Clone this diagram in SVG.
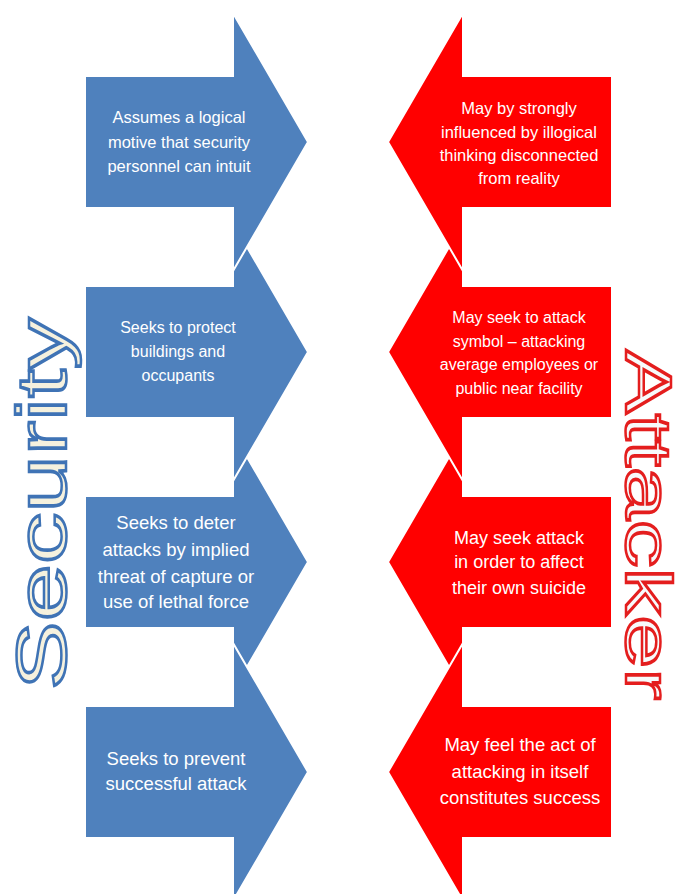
<svg xmlns="http://www.w3.org/2000/svg" width="686" height="894" viewBox="0 0 686 894">
<style>
.blue{fill:#4F81BD;stroke:#FFFFFF;stroke-width:2;stroke-linejoin:miter}
.red{fill:#FF0000;stroke:#FFFFFF;stroke-width:2;stroke-linejoin:miter}
.lbl{font-family:"Liberation Sans",Arial,sans-serif;fill:#FFFFFF;text-anchor:middle}
.big{font-family:"Liberation Sans",Arial,sans-serif;stroke-width:2.5}
</style>
<rect width="686" height="894" fill="#FFFFFF"/>
<g id="security-arrows">
<g id="sec3"><path class="blue" d="M85,496 H233 V433 L308,562 L233,691 V628 H85 Z"/>
<text class="lbl" font-size="18.5"><tspan x="176" y="529">Seeks to deter</tspan><tspan x="176" y="556">attacks by implied</tspan><tspan x="176" y="583">threat of capture or</tspan><tspan x="176" y="608">use of lethal force</tspan></text></g>
<g id="sec4"><path class="blue" d="M85,706 H233 V643 L308,772 L233,901 V838 H85 Z"/>
<text class="lbl" font-size="18.5"><tspan x="176" y="765">Seeks to prevent</tspan><tspan x="176" y="790">successful attack</tspan></text></g>
<g id="sec2"><path class="blue" d="M85,286 H233 V223 L308,352 L233,481 V418 H85 Z"/>
<text class="lbl" font-size="16"><tspan x="178" y="333">Seeks to protect</tspan><tspan x="178" y="357">buildings  and</tspan><tspan x="178" y="381">occupants</tspan></text></g>
<g id="sec1"><path class="blue" d="M85,76 H233 V13 L308,142 L233,271 V208 H85 Z"/>
<text class="lbl" font-size="16.5"><tspan x="179" y="123">Assumes a logical</tspan><tspan x="179" y="148">motive that security</tspan><tspan x="179" y="172">personnel  can  intuit</tspan></text></g>
</g>
<g id="attacker-arrows">
<g id="att3"><path class="red" d="M612,496 H463 V433 L388,562 L463,691 V628 H612 Z"/>
<text class="lbl" font-size="18"><tspan x="519" y="544">May seek attack</tspan><tspan x="519" y="568">in order to affect</tspan><tspan x="519" y="594">their own suicide</tspan></text></g>
<g id="att4"><path class="red" d="M612,706 H463 V643 L388,772 L463,901 V838 H612 Z"/>
<text class="lbl" font-size="18.5"><tspan x="520" y="751">May feel the act of</tspan><tspan x="520" y="778">attacking in itself</tspan><tspan x="520" y="804">constitutes success</tspan></text></g>
<g id="att2"><path class="red" d="M612,286 H463 V223 L388,352 L463,481 V418 H612 Z"/>
<text class="lbl" font-size="16"><tspan x="519" y="323">May seek to attack</tspan><tspan x="519" y="347">symbol – attacking</tspan><tspan x="519" y="370">average employees or</tspan><tspan x="519" y="394">public near facility</tspan></text></g>
<g id="att1"><path class="red" d="M612,76 H463 V13 L388,142 L463,271 V208 H612 Z"/>
<text class="lbl" font-size="16.5"><tspan x="519" y="114">May by strongly</tspan><tspan x="519" y="138">influenced  by illogical</tspan><tspan x="519" y="161">thinking disconnected</tspan><tspan x="519" y="184">from reality</tspan></text></g>
</g>
<g id="connectors"></g>
<g id="title-security">
<text class="big" font-size="70" transform="translate(66,690) rotate(-90)" x="0" y="0" textLength="372" lengthAdjust="spacingAndGlyphs" fill="#F5F1DE" stroke="#3F73B5">Security</text>
</g>
<g id="title-attacker">
<text class="big" font-size="64" transform="translate(626,350) rotate(90)" x="0" y="0" textLength="350" lengthAdjust="spacingAndGlyphs" fill="#F7FAFB" stroke="#E41E1E">Attacker</text>
</g>
</svg>
